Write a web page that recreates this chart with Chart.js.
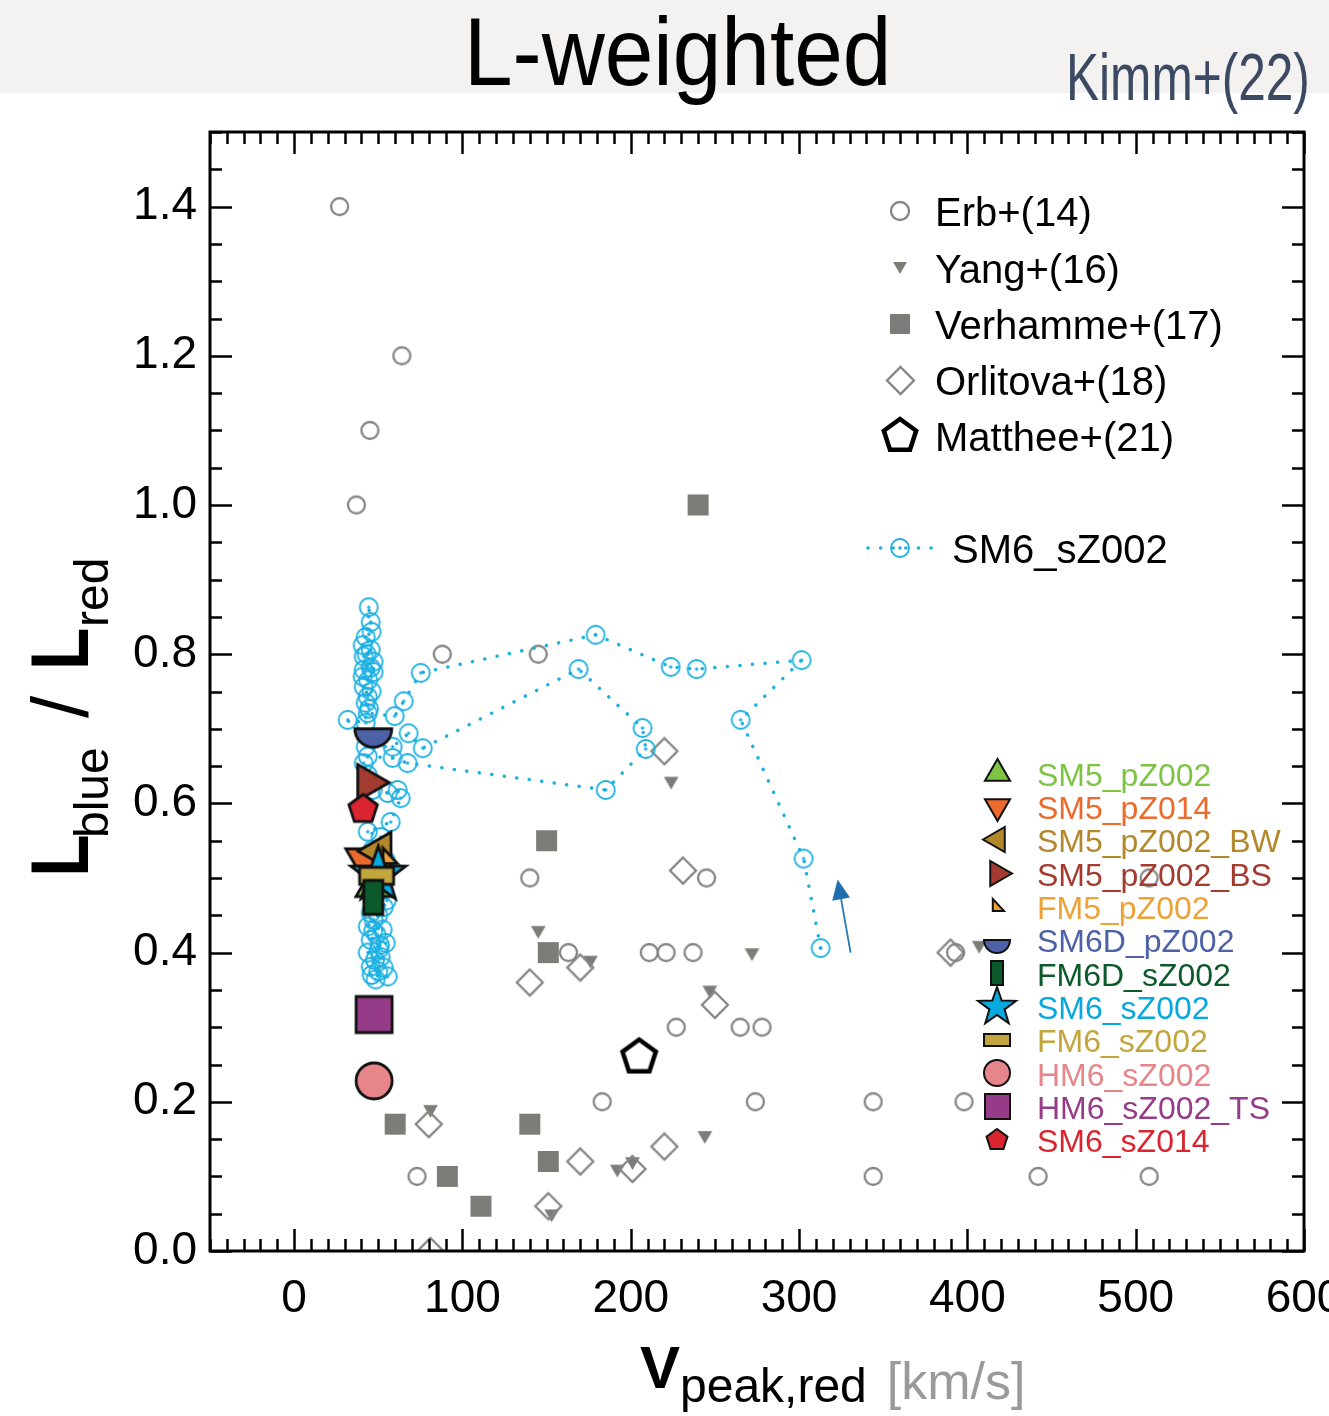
<!DOCTYPE html>
<html>
<head>
<meta charset="utf-8">
<script src="https://cdn.jsdelivr.net/npm/chart.js@4.4.0/dist/chart.umd.min.js"></script>
<style>
  html, body { margin: 0; padding: 0; background: #fff; }
  body { width: 1329px; height: 1416px; position: relative; overflow: hidden; font-family: "Liberation Sans", Arial, sans-serif; }
  #banner { position: absolute; left: 0; top: 0; width: 1329px; height: 93px; background: #f3f2f1; }
  .head { position: absolute; white-space: nowrap; line-height: 1; transform-origin: 0 0; }
  #title { left: 464px; top: 4px; font-size: 96px; color: #000; transform: scaleX(0.91); }
  #cite { left: 1066px; top: 43px; font-size: 67px; color: #3b4a62; transform: scaleX(0.74); }
  #wrap { position: absolute; left: 0; top: 0; width: 1329px; height: 1416px; }
</style>
</head>
<body>
<div id="banner"></div>
<div id="title" class="head">L-weighted</div>
<div id="cite" class="head">Kimm+(22)</div>
<div id="wrap"><canvas id="c"></canvas></div>
<script>
const FONT = '"Liberation Sans", Arial, Helvetica, sans-serif';

// ticks
const xMajor = [0, 100, 200, 300, 400, 500, 600];
const yMajor = [0, 0.2, 0.4, 0.6, 0.8, 1.0, 1.2, 1.4];

// observations (V_peak,red [km/s], L_blue/L_red)
const obsNames = ['Erb+(14)', 'Yang+(16)', 'Verhamme+(17)', 'Orlitova+(18)', 'Matthee+(21)'];
const erbV = [27, 64, 45, 37, 88, 145, 140, 245, 508, 163, 211, 221, 237, 393, 227, 265, 278, 183, 274, 344, 398, 73, 344, 442, 508];
const erbR = [1.40, 1.20, 1.10, 1.00, 0.80, 0.80, 0.50, 0.50, 0.50, 0.40, 0.40, 0.40, 0.40, 0.40, 0.30, 0.30, 0.30, 0.20, 0.20, 0.20, 0.20, 0.10, 0.10, 0.10, 0.10];
const yangV = [224, 145, 176, 272, 247, 407, 81, 244, 201, 192, 153];
const yangR = [0.63, 0.43, 0.39, 0.40, 0.35, 0.41, 0.19, 0.155, 0.12, 0.11, 0.05];
const verhV = [240, 150, 151, 60, 140, 91, 151, 111];
const verhR = [1.00, 0.55, 0.40, 0.17, 0.17, 0.10, 0.12, 0.06];
const orliV = [220, 231, 140, 170, 250, 390, 80, 170, 220, 201, 151, 81];
const orliR = [0.67, 0.51, 0.36, 0.38, 0.33, 0.40, 0.17, 0.12, 0.14, 0.11, 0.06, 0.0];
const mattV = [205];
const mattR = [0.26];

// SM6_sZ002 trajectory, in path order
const trajV = [312.8, 302.7, 265.3, 301.5, 239.1, 223.7, 179.1, 75.2, 65.1, 59.7,
  43.7, 44.5, 42.5, 43.7, 46.0, 41.3, 44.0, 40.7, 41.3, 45.5, 47.2, 47.2, 41.3, 43.0, 45.5, 40.7, 42.5, 46.0, 45.5, 44.3,
  42.5, 31.8, 42.5, 58.5, 68.0, 76.4, 169.0, 207.0, 208.9, 185.1, 67.4, 58.5,
  43.7, 41.3, 43.7, 46.6, 55.6, 61.5, 63.3, 57.3, 43.7, 51.4, 46.6, 54.4, 46.0, 46.6, 48.4, 55.0, 53.2, 45.5,
  50.0, 47.2, 43.7, 52.6, 47.0, 49.0, 45.5, 54.4, 51.0, 50.2, 43.7, 51.4, 48.0, 45.5, 53.2, 50.0, 46.0, 55.6, 48.4];
const trajR = [0.406, 0.526, 0.712, 0.792, 0.780, 0.783, 0.826, 0.775, 0.737, 0.717,
  0.721, 0.727, 0.735, 0.743, 0.750, 0.756, 0.765, 0.770, 0.779, 0.782, 0.776, 0.790, 0.797, 0.800, 0.806, 0.812, 0.823, 0.830, 0.843, 0.863,
  0.708, 0.712, 0.676, 0.676, 0.694, 0.674, 0.780, 0.701, 0.673, 0.618, 0.654, 0.661,
  0.663, 0.654, 0.638, 0.618, 0.614, 0.618, 0.607, 0.575, 0.562, 0.555, 0.538, 0.524, 0.510, 0.491, 0.478, 0.470, 0.461, 0.453,
  0.450, 0.444, 0.435, 0.431, 0.430, 0.424, 0.417, 0.413, 0.410, 0.404, 0.400, 0.394, 0.390, 0.381, 0.380, 0.375, 0.370, 0.368, 0.364];
const arrowFrom = [330.6, 0.400];
const arrowTo = [322.9, 0.498];

// simulations
const simNames = ['SM5_pZ002', 'SM5_pZ014', 'SM5_pZ002_BW', 'SM5_pZ002_BS', 'FM5_pZ002', 'SM6D_pZ002',
  'FM6D_sZ002', 'SM6_sZ002', 'FM6_sZ002', 'HM6_sZ002', 'HM6_sZ002_TS', 'SM6_sZ014'];
const simV = [48, 43, 51, 44, 56, 47, 47, 50, 49, 47.5, 47.5, 41];
const simR = [0.49, 0.523, 0.536, 0.628, 0.528, 0.70, 0.474, 0.504, 0.503, 0.228, 0.317, 0.592];

// ─── styles ─────────────────────────────────────────────────────────────────
const GRAY_LINE = '#858585';
const GRAY_FILL = '#7c7d78';
const CYAN = '#1cb0e2';
const simColors = ['#7ec443', '#ec6a2b', '#b3882c', '#a43b30', '#eca237', '#4d62a6',
  '#0c5a2a', '#06a8dd', '#c2a53d', '#e6858a', '#953b87', '#da2530'];
const simShapes = ['triUp', 'triDown', 'triLeft', 'triRight', 'corner', 'half',
  'rectV', 'star', 'rectH', 'circle', 'square', 'pentagon'];
const simPlotSize = [[44, 44], [48, 48], [44, 44], [42, 42], [18, 18], [37, 37],
  [19, 34], [58, 58], [34, 17], [36, 36], [36, 36], [30, 30]];
const simLegSize = [[29, 29], [29, 29], [29, 29], [29, 29], [14, 14], [26, 26],
  [12, 24], [40, 40], [26, 12], [26, 26], [25, 25], [22, 22]];
// bottom -> top
const simLayer = [0, 1, 2, 4, 7, 8, 6, 3, 5, 11, 9, 10];

function mk(shape, w, h, fill, stroke, lw) {
  lw = lw || 0;
  const pad = Math.ceil(lw) + 2;
  const c = document.createElement('canvas');
  c.width = Math.ceil(w + 2 * pad);
  c.height = Math.ceil(h + 2 * pad);
  const g = c.getContext('2d');
  const cx = c.width / 2, cy = c.height / 2, r = w / 2;
  const poly = (n, rot, rad) => {
    for (let i = 0; i < n; i++) {
      const a = rot + i * 2 * Math.PI / n;
      const px = cx + rad * Math.cos(a), py = cy + rad * Math.sin(a);
      i ? g.lineTo(px, py) : g.moveTo(px, py);
    }
    g.closePath();
  };
  g.beginPath();
  switch (shape) {
    case 'circle': case 'ring': g.arc(cx, cy, r, 0, 2 * Math.PI); break;
    case 'square': g.rect(cx - w / 2, cy - h / 2, w, h); break;
    case 'rectV': case 'rectH': g.rect(cx - w / 2, cy - h / 2, w, h); break;
    case 'diamond': poly(4, -Math.PI / 2, r); break;
    case 'triUp': poly(3, -Math.PI / 2, r); break;
    case 'triDown': poly(3, Math.PI / 2, r); break;
    case 'triLeft': poly(3, Math.PI, r); break;
    case 'triRight': poly(3, 0, r); break;
    case 'pentagon': poly(5, -Math.PI / 2, r); break;
    case 'half': g.arc(cx, cy, r, 0, Math.PI); g.closePath(); break;
    case 'corner':
      g.moveTo(cx - r * 0.6, cy - r); g.lineTo(cx + r, cy + r * 0.7); g.lineTo(cx - r * 0.6, cy + r * 0.7); g.closePath();
      break;
    case 'star':
      for (let i = 0; i < 10; i++) {
        const a = -Math.PI / 2 + i * Math.PI / 5;
        const rad = i % 2 ? r * 0.4 : r;
        const px = cx + rad * Math.cos(a), py = cy + rad * Math.sin(a);
        i ? g.lineTo(px, py) : g.moveTo(px, py);
      }
      g.closePath();
      break;
  }
  if (fill) { g.fillStyle = fill; g.fill(); }
  if (stroke && lw) { g.lineWidth = lw; g.strokeStyle = stroke; g.lineJoin = 'miter'; g.stroke(); }
  if (shape === 'ring') {
    g.beginPath(); g.arc(cx, cy, 1.7, 0, 2 * Math.PI); g.fillStyle = stroke; g.fill();
  }
  return c;
}

const obsMarkers = [
  mk('circle', 17, 17, null, GRAY_LINE, 2.3),
  mk('triDown', 17, 17, GRAY_FILL, null, 0),
  mk('square', 21, 21, GRAY_FILL, null, 0),
  mk('diamond', 26, 26, null, GRAY_LINE, 2.3),
  mk('pentagon', 35, 35, null, '#000', 4.5),
];
const obsLegMarkers = [
  mk('circle', 18, 18, null, GRAY_LINE, 2.3),
  mk('triDown', 16, 16, GRAY_FILL, null, 0),
  mk('square', 20, 20, GRAY_FILL, null, 0),
  mk('diamond', 27, 27, null, GRAY_LINE, 2.3),
  mk('pentagon', 34, 34, null, '#000', 4.5),
];
const ringMarker = mk('ring', 18, 18, null, CYAN, 1.8);
const simMarkers = simShapes.map((s, i) => mk(s, simPlotSize[i][0], simPlotSize[i][1], simColors[i], '#111', 2.8));
const simLegMarkers = simShapes.map((s, i) => mk(s, simLegSize[i][0], simLegSize[i][1], simColors[i], '#111', 2));

const zip = (xs, ys) => xs.map((x, i) => ({ x, y: ys[i] }));

// ─── datasets (listed bottom -> top) ────────────────────────────────────────
const layers = [];
[[erbV, erbR], [yangV, yangR], [verhV, verhR], [orliV, orliR], [mattV, mattR]].forEach(([xs, ys], i) => {
  layers.push({
    label: obsNames[i], data: zip(xs, ys), showLine: false,
    pointStyle: obsMarkers[i], pointRadius: 6, clip: 0,
  });
});
layers.push({
  label: 'SM6_sZ002 track', data: zip(trajV, trajR), showLine: true,
  borderColor: CYAN, borderWidth: 3.5, borderDash: [0.1, 12.5], borderCapStyle: 'round',
  pointStyle: ringMarker, pointRadius: 6, clip: 0, tension: 0,
});
simLayer.forEach(i => {
  layers.push({
    label: simNames[i], data: [{ x: simV[i], y: simR[i] }], showLine: false,
    pointStyle: simMarkers[i], pointRadius: 6, clip: 0,
  });
});
layers.forEach((d, i) => { d.order = layers.length - i; });

// ─── plugins ────────────────────────────────────────────────────────────────
const arrowPlugin = {
  id: 'arrow',
  afterDatasetsDraw(chart) {
    const { ctx, scales: { x, y } } = chart;
    const x0 = x.getPixelForValue(arrowFrom[0]), y0 = y.getPixelForValue(arrowFrom[1]);
    const x1 = x.getPixelForValue(arrowTo[0]), y1 = y.getPixelForValue(arrowTo[1]);
    const a = Math.atan2(y1 - y0, x1 - x0);
    const L = 20, W = 9;
    ctx.save();
    ctx.strokeStyle = '#2b78b5'; ctx.fillStyle = '#1f6fae'; ctx.lineWidth = 1.8;
    ctx.beginPath(); ctx.moveTo(x0, y0);
    ctx.lineTo(x1 - L * Math.cos(a), y1 - L * Math.sin(a)); ctx.stroke();
    ctx.beginPath();
    ctx.moveTo(x1, y1);
    ctx.lineTo(x1 - L * Math.cos(a) + W * Math.sin(a), y1 - L * Math.sin(a) - W * Math.cos(a));
    ctx.lineTo(x1 - L * Math.cos(a) - W * Math.sin(a), y1 - L * Math.sin(a) + W * Math.cos(a));
    ctx.closePath(); ctx.fill();
    ctx.restore();
  },
};

const framePlugin = {
  id: 'frame',
  afterDatasetsDraw(chart) {
    const { ctx, chartArea: a, scales: { x, y } } = chart;
    ctx.save();
    ctx.strokeStyle = '#000';
    ctx.lineWidth = 2.5;
    ctx.beginPath();
    for (let v = -50; v <= 600; v += 10) {
      const px = Math.round(x.getPixelForValue(v)) + 0.5;
      const len = v % 100 === 0 ? 22 : 12;
      ctx.moveTo(px, a.bottom); ctx.lineTo(px, a.bottom - len);
      ctx.moveTo(px, a.top); ctx.lineTo(px, a.top + len);
    }
    for (let i = 0; i <= 30; i++) {
      const py = Math.round(y.getPixelForValue(i * 0.05)) + 0.5;
      const len = i % 4 === 0 ? 22 : 12;
      ctx.moveTo(a.left, py); ctx.lineTo(a.left + len, py);
      ctx.moveTo(a.right, py); ctx.lineTo(a.right - len, py);
    }
    ctx.stroke();
    ctx.lineWidth = 3;
    ctx.strokeRect(a.left, a.top, a.right - a.left, a.bottom - a.top);
    ctx.restore();
  },
};

const legendPlugin = {
  id: 'legends',
  afterDraw(chart) {
    const ctx = chart.ctx;
    const put = (c, x, y) => ctx.drawImage(c, Math.round(x - c.width / 2), Math.round(y - c.height / 2));
    ctx.save();
    ctx.textBaseline = 'alphabetic';
    ctx.textAlign = 'left';
    // observations
    ctx.font = '40px ' + FONT;
    ctx.fillStyle = '#000';
    const ys1 = [211, 268, 324, 380, 436];
    obsNames.forEach((n, i) => {
      put(obsLegMarkers[i], 900, ys1[i] - (i === 1 ? 2 : 0));
      ctx.fillText(n, 935, ys1[i] + 14.5);
    });
    // model track
    ctx.strokeStyle = CYAN; ctx.lineWidth = 3.5; ctx.lineCap = 'round';
    ctx.setLineDash([0.1, 12.5]);
    ctx.beginPath(); ctx.moveTo(868, 548); ctx.lineTo(934, 548); ctx.stroke();
    ctx.setLineDash([]);
    put(ringMarker, 900, 548);
    ctx.fillText('SM6_sZ002', 952, 562.5);
    // simulations
    ctx.font = '32px ' + FONT;
    simNames.forEach((n, i) => {
      const yc = 774 + i * 33.36;
      put(simLegMarkers[i], 997, yc - 1);
      ctx.fillStyle = simColors[i];
      ctx.fillText(n, 1037, yc + 11.5);
    });
    ctx.restore();
  },
};

const axisTitlePlugin = {
  id: 'axisTitles',
  afterDraw(chart) {
    const ctx = chart.ctx;
    ctx.save();
    ctx.textBaseline = 'alphabetic';
    ctx.textAlign = 'left';
    ctx.fillStyle = '#000';
    // x title
    ctx.font = 'bold 60px ' + FONT;
    ctx.fillText('V', 640, 1388);
    let xx = 640 + ctx.measureText('V').width;
    ctx.font = '48px ' + FONT;
    ctx.fillText('peak,red', xx, 1402);
    xx += ctx.measureText('peak,red').width + 20;
    ctx.fillStyle = '#9a9a9a';
    ctx.font = '52px ' + FONT;
    ctx.fillText('[km/s]', xx, 1399);
    // y title (reads bottom to top)
    ctx.fillStyle = '#000';
    ctx.translate(88, 872);
    ctx.rotate(-Math.PI / 2);
    ctx.font = '80px ' + FONT;
    ctx.fillText('/', 154, 0);
    ctx.font = '48px ' + FONT;
    ctx.fillText('blue', 34, 20);
    ctx.fillText('red', 245, 20);
    ctx.scale(0.85, 1);
    ctx.font = 'bold 82px ' + FONT;
    ctx.fillText('L', -6, 0);
    ctx.fillText('L', 237.5, 0);
    ctx.restore();
  },
};

// ─── chart ──────────────────────────────────────────────────────────────────
new Chart(document.getElementById('c'), {
  type: 'scatter',
  data: { datasets: layers },
  options: {
    responsive: true,
    maintainAspectRatio: false,
    animation: false,
    events: [],
    layout: { padding: { top: 132, right: 25, left: 0, bottom: 0 } },
    plugins: { legend: { display: false }, tooltip: { enabled: false }, title: { display: false } },
    scales: {
      x: {
        type: 'linear', min: -50, max: 600,
        grid: { display: false, drawTicks: false },
        border: { display: false },
        afterBuildTicks: s => { s.ticks = xMajor.map(v => ({ value: v })); },
        ticks: { color: '#000', font: { family: FONT, size: 46 }, padding: 21, maxRotation: 0, autoSkip: false },
        afterFit: s => { s.height = 165; s.paddingLeft = 0; s.paddingRight = 0; },
      },
      y: {
        type: 'linear', min: 0, max: 1.5,
        grid: { display: false, drawTicks: false },
        border: { display: false },
        afterBuildTicks: s => { s.ticks = yMajor.map(v => ({ value: v })); },
        ticks: { color: '#000', font: { family: FONT, size: 46 }, padding: 13, autoSkip: false, callback: v => v.toFixed(1) },
        afterFit: s => { s.width = 210; s.paddingTop = 0; s.paddingBottom = 0; },
      },
    },
  },
  plugins: [arrowPlugin, framePlugin, legendPlugin, axisTitlePlugin],
});
</script>
</body>
</html>
